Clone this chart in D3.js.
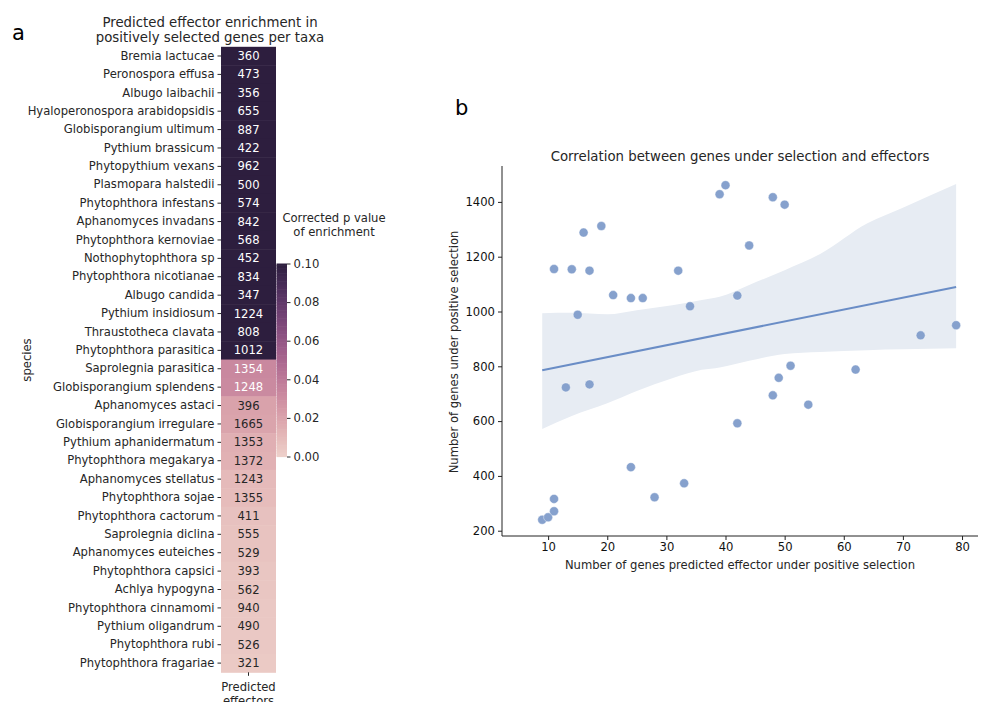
<!DOCTYPE html>
<html><head><meta charset="utf-8">
<script src="https://cdn.jsdelivr.net/npm/d3@7"></script>
<style>
body{margin:0;background:#fff;}
text{font-family:"DejaVu Sans",sans-serif;}
</style></head>
<body>
<svg id="c" width="982" height="702"></svg>
<script>
// ---------- DATA ----------
const species = ["Bremia lactucae","Peronospora effusa","Albugo laibachii","Hyaloperonospora arabidopsidis","Globisporangium ultimum","Pythium brassicum","Phytopythium vexans","Plasmopara halstedii","Phytophthora infestans","Aphanomyces invadans","Phytophthora kernoviae","Nothophytophthora sp","Phytophthora nicotianae","Albugo candida","Pythium insidiosum","Thraustotheca clavata","Phytophthora parasitica","Saprolegnia parasitica","Globisporangium splendens","Aphanomyces astaci","Globisporangium irregulare","Pythium aphanidermatum","Phytophthora megakarya","Aphanomyces stellatus","Phytophthora sojae","Phytophthora cactorum","Saprolegnia diclina","Aphanomyces euteiches","Phytophthora capsici","Achlya hypogyna","Phytophthora cinnamomi","Pythium oligandrum","Phytophthora rubi","Phytophthora fragariae"];
const effectorCounts = [360,473,356,655,887,422,962,500,574,842,568,452,834,347,1224,808,1012,1354,1248,396,1665,1353,1372,1243,1355,411,555,529,393,562,940,490,526,321];
// corrected p values (estimated from colour; >=0.1 shown at the top colour)
const pValues = [1,1,1,1,1,1,1,1,1,1,1,1,1,1,1,1,1,0.033,0.032,0.021,0.020,0.015,0.014,0.010,0.009,0.007,0.006,0.006,0.005,0.005,0.004,0.004,0.004,0.003];
const heatColumn = ["Predicted\neffectors"];
const cbarTicks = [0,0.02,0.04,0.06,0.08,0.10];

const effectorsPos = [9,10,11,11,13,17,24,28,33,11,14,15,16,17,19,21,24,26,32,34,39,40,44,42,48,50,73,79,42,48,49,51,54,62];
const genesPos = [240,249,271,316,723,734,432,322,373,1155,1154,988,1288,1149,1312,1060,1049,1049,1149,1019,1428,1461,1241,1058,1417,1390,913,950,592,694,758,802,660,788];
const xTicks = [10,20,30,40,50,60,70,80];
const yTicks = [200,400,600,800,1000,1200,1400];
// confidence band
const bandX = [9,14,20,25,31,36,39,44,50,56,64,70,79];
const bandUpper = [994,995,990,1005,1023,1042,1054,1097,1151,1210,1322,1379,1465];
const bandLower = [571,619,665,710,756,787,796,820,845,852,859,862,866];

// ---------- helpers ----------
function cubehelix(x){ // matplotlib cubehelix with seaborn defaults
  const gamma=1,start=0,rot=0.4,hue=0.8;
  const xg=Math.pow(x,gamma), a=hue*xg*(1-xg)/2, phi=2*Math.PI*(start/3+rot*x);
  const f=(p0,p1)=>Math.max(0,Math.min(1,xg+a*(p0*Math.cos(phi)+p1*Math.sin(phi))));
  return [f(-0.14861,1.78277),f(-0.29227,-0.90649),f(1.97294,0)];
}
function cmap(t){ t=Math.max(0,Math.min(1,t)); const c=cubehelix(0.85-0.7*t); return d3.rgb(c[0]*255,c[1]*255,c[2]*255); }
function lum(c){ const l=v=>{v/=255;return v<=0.03928?v/12.92:Math.pow((v+0.055)/1.055,2.4);}; return 0.2126*l(c.r)+0.7152*l(c.g)+0.0722*l(c.b); }

const svg=d3.select("#c");
const txt="#262626";
const fs=11.6;

// ---------- panel a: heatmap ----------
const hx=d3.scaleBand().domain(heatColumn).range([221,276]);
const hy=d3.scaleBand().domain(species).range([46.8,672.3]);
const pc=d3.scaleLinear().domain([0,0.1]).range([0,1]).clamp(true);
const g=svg.append("g");
g.selectAll("rect.cell").data(species).join("rect").attr("class","cell")
  .attr("x",hx(heatColumn[0])).attr("width",hx.bandwidth())
  .attr("y",d=>hy(d)).attr("height",hy.bandwidth()+0.5)
  .attr("fill",(d,i)=>cmap(pc(pValues[i])));
g.selectAll("text.ann").data(species).join("text").attr("class","ann")
  .attr("x",hx(heatColumn[0])+hx.bandwidth()/2).attr("y",d=>hy(d)+hy.bandwidth()/2)
  .attr("dy","0.35em").attr("text-anchor","middle").attr("font-size",fs)
  .attr("fill",(d,i)=>lum(cmap(pc(pValues[i])))>0.408?txt:"#fff")
  .text((d,i)=>effectorCounts[i]);
const ay=d3.axisLeft(hy).tickSize(3.5).tickPadding(3);
g.append("g").attr("transform","translate(221,0)").call(ay)
  .call(s=>s.select(".domain").remove())
  .call(s=>s.selectAll("text").attr("font-size",fs).attr("fill",txt).attr("font-family","DejaVu Sans"))
  .call(s=>s.selectAll("line").attr("stroke",txt));
// x tick
const axB=g.append("g").attr("transform","translate(0,672.3)");
axB.append("line").attr("x1",hx(heatColumn[0])+hx.bandwidth()/2).attr("x2",hx(heatColumn[0])+hx.bandwidth()/2).attr("y1",0).attr("y2",3.5).attr("stroke",txt);
heatColumn[0].split("\n").forEach((l,i)=>axB.append("text").attr("x",hx(heatColumn[0])+hx.bandwidth()/2).attr("y",18.5+i*14).attr("text-anchor","middle").attr("font-size",fs).attr("fill",txt).text(l));
g.append("text").attr("transform","translate(31,360) rotate(-90)").attr("text-anchor","middle").attr("font-size",fs).attr("fill",txt).text("species");
["Predicted effector enrichment in","positively selected genes per taxa"].forEach((l,i)=>
  svg.append("text").attr("x",210).attr("y",26.5+i*15.5).attr("text-anchor","middle").attr("font-size",13.3).attr("fill",txt).text(l));
svg.append("text").attr("x",12).attr("y",40).attr("font-size",21).attr("font-family","Liberation Sans, Arial, sans-serif").attr("fill","#000").text("a");

// colorbar
const cb=d3.scaleLinear().domain([0,0.1]).range([456.5,263.5]);
const cbx=276.5, cbw=10.5;
const nSteps=120;
const cbG=svg.append("g");
cbG.selectAll("rect").data(d3.range(nSteps)).join("rect")
  .attr("x",cbx).attr("width",cbw)
  .attr("y",i=>cb((i+1)/nSteps*0.1)).attr("height",i=>cb(i/nSteps*0.1)-cb((i+1)/nSteps*0.1)+0.6)
  .attr("fill",i=>cmap((i+0.5)/nSteps));
cbG.append("g").attr("transform",`translate(${cbx+cbw},0)`)
  .call(d3.axisRight(cb).tickValues(cbarTicks).tickFormat(d3.format(".2f")).tickSize(3.5).tickPadding(3))
  .call(s=>s.select(".domain").remove())
  .call(s=>s.selectAll("text").attr("font-size",fs).attr("fill",txt).attr("font-family","DejaVu Sans"))
  .call(s=>s.selectAll("line").attr("stroke",txt));
["Corrected p value","of enrichment"].forEach((l,i)=>
  svg.append("text").attr("x",334).attr("y",222+i*14).attr("text-anchor","middle").attr("font-size",fs).attr("fill",txt).text(l));

// ---------- panel b: scatter ----------
const sx=d3.scaleLinear().domain([2.2,82.7]).range([502,978]);
const sy=d3.scaleLinear().domain([180.7,1531]).range([536,166]);
const sg=svg.append("g");
const area=d3.area().x((d,i)=>sx(bandX[i])).y0((d,i)=>sy(bandLower[i])).y1((d,i)=>sy(bandUpper[i])).curve(d3.curveMonotoneX);
sg.append("path").attr("d",area(bandX)).attr("fill","#e7ecf3");
// regression line (least squares from data)
const mx=d3.mean(effectorsPos), my=d3.mean(genesPos);
let num=0,den=0; effectorsPos.forEach((x,i)=>{num+=(x-mx)*(genesPos[i]-my);den+=(x-mx)*(x-mx);});
const slope=num/den, icpt=my-slope*mx;
const xr=d3.extent(effectorsPos);
sg.append("line").attr("x1",sx(xr[0])).attr("x2",sx(xr[1])).attr("y1",sy(icpt+slope*xr[0])).attr("y2",sy(icpt+slope*xr[1]))
  .attr("stroke","#6a8dc6").attr("stroke-width",2);
sg.selectAll("circle").data(effectorsPos).join("circle")
  .attr("cx",d=>sx(d)).attr("cy",(d,i)=>sy(genesPos[i])).attr("r",4.5)
  .attr("fill","#86a1cd").attr("stroke","#fff").attr("stroke-width",0.4);
const axX=sg.append("g").attr("transform","translate(0,536)").call(d3.axisBottom(sx).tickValues(xTicks).tickSize(4).tickPadding(3));
const axY=sg.append("g").attr("transform","translate(502,0)").call(d3.axisLeft(sy).tickValues(yTicks).tickFormat(d3.format("d")).tickSize(4).tickPadding(3));
[axX,axY].forEach(a=>{a.selectAll("text").attr("font-size",fs).attr("fill","#111").attr("font-family","DejaVu Sans");a.selectAll("line,path").attr("stroke","#222").attr("stroke-width",1);});
axX.select(".domain").attr("d","M502,0H978");
axY.select(".domain").attr("d","M0,536V166");
svg.append("text").attr("x",740).attr("y",161).attr("text-anchor","middle").attr("font-size",13.3).attr("fill",txt).text("Correlation between genes under selection and effectors");
svg.append("text").attr("x",740).attr("y",569).attr("text-anchor","middle").attr("font-size",fs).attr("fill",txt).text("Number of genes predicted effector under positive selection");
svg.append("text").attr("transform","translate(458,352) rotate(-90)").attr("text-anchor","middle").attr("font-size",fs).attr("fill",txt).text("Number of genes under positive selection");
svg.append("text").attr("x",455).attr("y",115).attr("font-size",21).attr("font-family","Liberation Sans, Arial, sans-serif").attr("fill","#000").text("b");
</script>
</body></html>
